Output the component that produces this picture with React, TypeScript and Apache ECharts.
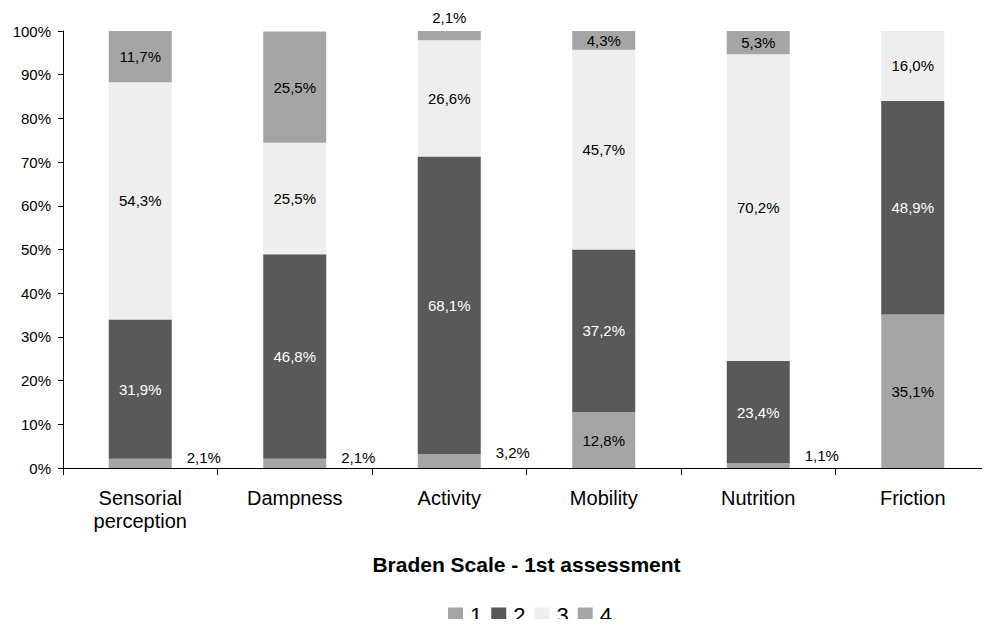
import React, { useEffect, useRef } from "react";
import * as echarts from "echarts";

const categories = ["Sensorial\nperception", "Dampness", "Activity", "Mobility", "Nutrition", "Friction"];
const seriesNames = ["1", "2", "3", "4"];
const score1 = [2.1, 2.1, 3.2, 12.8, 1.1, 35.1];
const score2 = [31.9, 46.8, 68.1, 37.2, 23.4, 48.9];
const score3 = [54.3, 25.5, 26.6, 45.7, 70.2, 16.0];
const score4 = [11.7, 25.5, 2.1, 4.3, 5.3, 0];
const colors = ["#a5a5a5", "#595959", "#eeeeee", "#a5a5a5"];
const yTicks = [0, 10, 20, 30, 40, 50, 60, 70, 80, 90, 100];

const FONT = "Liberation Sans, Arial, sans-serif";
const fmt = (v: number) => v.toFixed(1).replace(".", ",") + "%";

// small score-1 segments carry their label beside the bar
const sideOffsets: Record<number, number> = { 0: -6, 1: -6, 2: -9, 4: -10 };

export default function App() {
  const ref = useRef<HTMLDivElement>(null);

  useEffect(() => {
    if (!ref.current) return;
    const chart = echarts.init(ref.current, undefined, { renderer: "svg" });

    const baseLabel = {
      show: true,
      fontFamily: FONT,
      fontSize: 15,
      color: "#000",
      formatter: (p: any) => fmt(p.value),
    };

    const s1Data = score1.map((v, i) => {
      if (i in sideOffsets) {
        return {
          value: v,
          label: { position: "right", distance: 15, offset: [0, sideOffsets[i]] },
        };
      }
      return { value: v };
    });

    const s4Data = score4.map((v) => {
      if (v === 0) return { value: v, label: { show: false } };
      if (v < 3) return { value: v, label: { position: "top", distance: 6 } };
      return { value: v };
    });

    const all = [s1Data, score2, score3, s4Data];

    chart.setOption({
      animation: false,
      textStyle: { fontFamily: FONT },
      grid: { left: 63, top: 31, width: 934, height: 437 },
      legend: {
        data: seriesNames,
        left: 448,
        top: 604,
        padding: 0,
        itemWidth: 15,
        itemHeight: 15,
        itemGap: 9,
        icon: "rect",
        textStyle: { fontFamily: FONT, fontSize: 22, color: "#000", padding: [0, 0, 0, 2] },
      },
      xAxis: {
        type: "category",
        data: categories,
        name: "Braden Scale - 1st assessment",
        nameLocation: "middle",
        nameGap: 86,
        nameTextStyle: { fontFamily: FONT, fontSize: 21, fontWeight: "bold", color: "#000" },
        axisLine: { lineStyle: { color: "#000", width: 1 } },
        axisTick: { show: true, length: 7, alignWithLabel: false, lineStyle: { color: "#000" } },
        axisLabel: { fontFamily: FONT, fontSize: 20, color: "#000", margin: 18, lineHeight: 23 },
      },
      yAxis: {
        type: "value",
        min: yTicks[0],
        max: yTicks[yTicks.length - 1],
        interval: 10,
        axisLine: { show: true, lineStyle: { color: "#000", width: 1 } },
        axisTick: { show: true, length: 5, lineStyle: { color: "#000" } },
        splitLine: { show: false },
        axisLabel: { fontFamily: FONT, fontSize: 15, color: "#000", margin: 12, formatter: "{value}%" },
      },
      series: seriesNames.map((name, k) => ({
        name,
        type: "bar",
        stack: "total",
        barWidth: 63,
        itemStyle: { color: colors[k] },
        label: { ...baseLabel, position: "inside", color: k === 1 ? "#fff" : "#000" },
        data: all[k],
      })),
    });

    return () => chart.dispose();
  }, []);

  return <div ref={ref} style={{ width: 990, height: 627, margin: -8 }} />;
}
